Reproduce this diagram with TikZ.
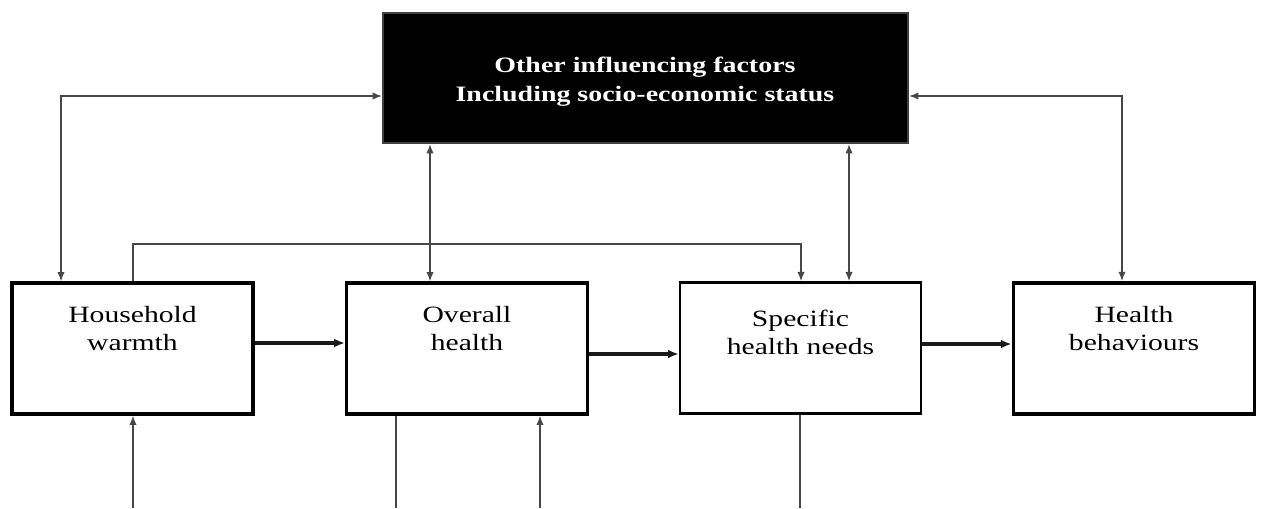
\documentclass[tikz,border=0pt]{standalone}
\usepackage{fontspec}
\setmainfont{Liberation Serif}
\newfontfamily\boxfont[FakeStretch=1.27]{Liberation Serif}
\usetikzlibrary{arrows.meta}
\begin{document}
\begin{tikzpicture}[x=0.75pt,y=-0.75pt,
  darkbox/.style={draw=black!75,fill=black,line width=1.5pt,minimum width=393.75pt,minimum height=97.5pt,inner sep=0pt},
  wbox/.style={draw=black,fill=white,line width=2.4pt,minimum width=180.75pt,minimum height=98.25pt,inner sep=0pt},
  lbl/.style={font=\boxfont\fontsize{17.5pt}{21pt}\selectfont,align=center,inner sep=0pt},
  dlbl/.style={font=\boxfont\bfseries\fontsize{16.5pt}{21.75pt}\selectfont,text=white,align=center,inner sep=0pt},
  conn/.style={draw=black!72,line width=1.1pt},
  tip/.style={-{Latex[length=7pt,width=5.5pt]}},
  dtip/.style={{Latex[length=7pt,width=5.5pt]}-{Latex[length=7pt,width=5.5pt]}},
  thick arrow/.style={draw=black!90,line width=2.8pt,-{Latex[length=8pt,width=6.5pt]}}]
\useasboundingbox (0,0) rectangle (1261,508);
% boxes
\node[darkbox] (of) at (645.5,78) {};
\node[dlbl] (oft) at (645,81.5) {Other influencing factors\\Including socio-economic status};
\node[wbox] (hw) at (132.5,348.5) {};
\node[wbox] (oh) at (467,348.5) {};
\node[wbox,line width=1.8pt] (sh) at (800.5,348) {};
\node[wbox,line width=2.8pt] (hb) at (1134,348.5) {};
\node[lbl] (hwt) at (132.5,329) {Household\\warmth};
\node[lbl] (oht) at (467,329) {Overall\\health};
\node[lbl] (sht) at (800.5,332) {Specific\\health needs};
\node[lbl] (hbt) at (1134,329) {Health\\behaviours};
% coordinates for free ends and corners
\coordinate (c1) at (61,96);
\coordinate (c2) at (1122,96);
\coordinate (c3) at (133,244);
\coordinate (c4) at (801,244);
\coordinate (b1) at (133,508);
\coordinate (b2) at (396,508);
\coordinate (b3) at (540,508);
\coordinate (b4) at (800,508);
% connectors to/from black box
\draw[conn,dtip] (hw.north -| c1) -- (c1) -- (c1 -| of.west);
\draw[conn,dtip] (hb.north -| c2) -- (c2) -- (c2 -| of.east);
\draw[conn,dtip] (of.south -| 430,0) -- (oh.north -| 430,0);
\draw[conn,dtip] (of.south -| 849,0) -- (sh.north -| 849,0);
% household to specific
\draw[conn,tip] (hw.north -| c3) -- (c3) -- (c4) -- (sh.north -| c4);
% horizontal thick arrows
\draw[thick arrow] (hw.east |- 0,343) -- (oh.west |- 0,343);
\draw[thick arrow] (oh.east |- 0,354) -- (sh.west |- 0,354);
\draw[thick arrow] (sh.east |- 0,344) -- (hb.west |- 0,344);
% bottom lines
\draw[conn,tip] (b1) -- (hw.south -| b1);
\draw[conn] (oh.south -| b2) -- (b2);
\draw[conn,tip] (b3) -- (oh.south -| b3);
\draw[conn] (sh.south -| b4) -- (b4);
\end{tikzpicture}
\end{document}
